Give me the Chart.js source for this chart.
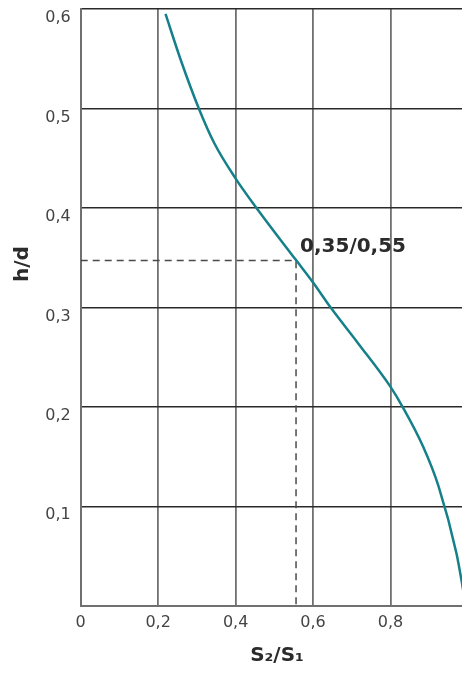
<!DOCTYPE html>
<html>
<head>
<meta charset="utf-8">
<script src="https://cdn.jsdelivr.net/npm/chart.js@4"></script>
<style>
  html, body { margin: 0; padding: 0; background: #fff; overflow: hidden; }
  #wrap { width: 470px; height: 675px; }
</style>
</head>
<body>
<div id="wrap"><canvas id="chart" width="470" height="675"></canvas></div>
<script>
// ==========================================
// Data
// ==========================================
const curveX = [0.219, 0.259, 0.305, 0.345, 0.401, 0.452, 0.555, 0.60, 0.645, 0.716, 0.80, 0.831, 0.884, 0.924, 0.970, 0.983, 0.994];
const curveY = [0.595, 0.548, 0.50, 0.465, 0.429, 0.401, 0.348, 0.325, 0.30, 0.264, 0.22, 0.20, 0.16, 0.12, 0.053, 0.026, 0.0];

const markX = 0.556;
const markY = 0.347;
const markLabel = '0,35/0,55';

const xTicks = [0, 0.2, 0.4, 0.6, 0.8, 1];
const yTicks = [0.1, 0.2, 0.3, 0.4, 0.5, 0.6];

const xTitle = 'S₂/S₁';
const yTitle = 'h/d';

// ==========================================
// Helpers
// ==========================================
const comma = (v) => (v === 0 || v === 1) ? String(v) : v.toFixed(1).replace('.', ',');
const FONT = '"DejaVu Sans", sans-serif';

const noPad = (s) => { s.paddingTop = s.paddingBottom = s.paddingLeft = s.paddingRight = 0; };

const titlesPlugin = {
  id: 'titles',
  afterDraw(chart) {
    const { ctx, scales } = chart;
    ctx.save();
    ctx.fillStyle = '#2b2b2b';
    ctx.textBaseline = 'middle';

    // marker label
    ctx.font = `bold 20px ${FONT}`;
    ctx.textAlign = 'left';
    ctx.fillText(markLabel, scales.x.getPixelForValue(markX) + 4, scales.y.getPixelForValue(markY) - 14);

    // x title
    ctx.textAlign = 'center';
    ctx.fillText(xTitle, 277, 656);

    // y title
    ctx.translate(23, 264);
    ctx.rotate(-Math.PI / 2);
    ctx.fillText(yTitle, 0, 0);
    ctx.restore();
  }
};

// ==========================================
// Chart
// ==========================================
const ctx = document.getElementById('chart').getContext('2d');

new Chart(ctx, {
  type: 'scatter',
  data: {
    datasets: [
      {
        data: curveX.map((x, i) => ({ x, y: curveY[i] })),
        showLine: true,
        borderColor: '#16808a',
        borderWidth: 2.5,
        pointRadius: 0,
        cubicInterpolationMode: 'monotone'
      },
      {
        data: [{ x: 0, y: markY }, { x: markX, y: markY }, { x: markX, y: 0 }],
        showLine: true,
        borderColor: '#4a4a4a',
        borderWidth: 1.5,
        borderDash: [7, 5],
        pointRadius: 0,
        tension: 0
      }
    ]
  },
  options: {
    responsive: false,
    animation: false,
    layout: { autoPadding: false, padding: { top: 9, right: 2, left: 0, bottom: 0 } },
    plugins: { legend: { display: false }, tooltip: { enabled: false } },
    scales: {
      x: {
        type: 'linear',
        min: 0,
        max: 1,
        afterFit: (s) => { s.height = 69.3; noPad(s); },
        afterBuildTicks: (s) => { s.ticks = xTicks.map(v => ({ value: v })); },
        grid: { color: '#707070', lineWidth: 1.8, drawTicks: false },
        border: { color: '#707070', width: 2 },
        ticks: {
          padding: 8,
          autoSkip: false,
          color: '#444',
          font: { family: FONT, size: 16 },
          callback: (v) => comma(v)
        }
      },
      y: {
        type: 'linear',
        min: 0,
        max: 0.6,
        afterFit: (s) => { s.width = 80.7; noPad(s); },
        afterBuildTicks: (s) => { s.ticks = [0].concat(yTicks).map(v => ({ value: v })); },
        grid: { color: '#2a2a2a', lineWidth: 1.5, drawTicks: false },
        border: { color: '#707070', width: 2 },
        ticks: {
          padding: 10,
          labelOffset: 9,
          color: '#444',
          font: { family: FONT, size: 16 },
          callback: (v) => v === 0 ? '' : comma(v)
        }
      }
    }
  },
  plugins: [titlesPlugin]
});
</script>
</body>
</html>
